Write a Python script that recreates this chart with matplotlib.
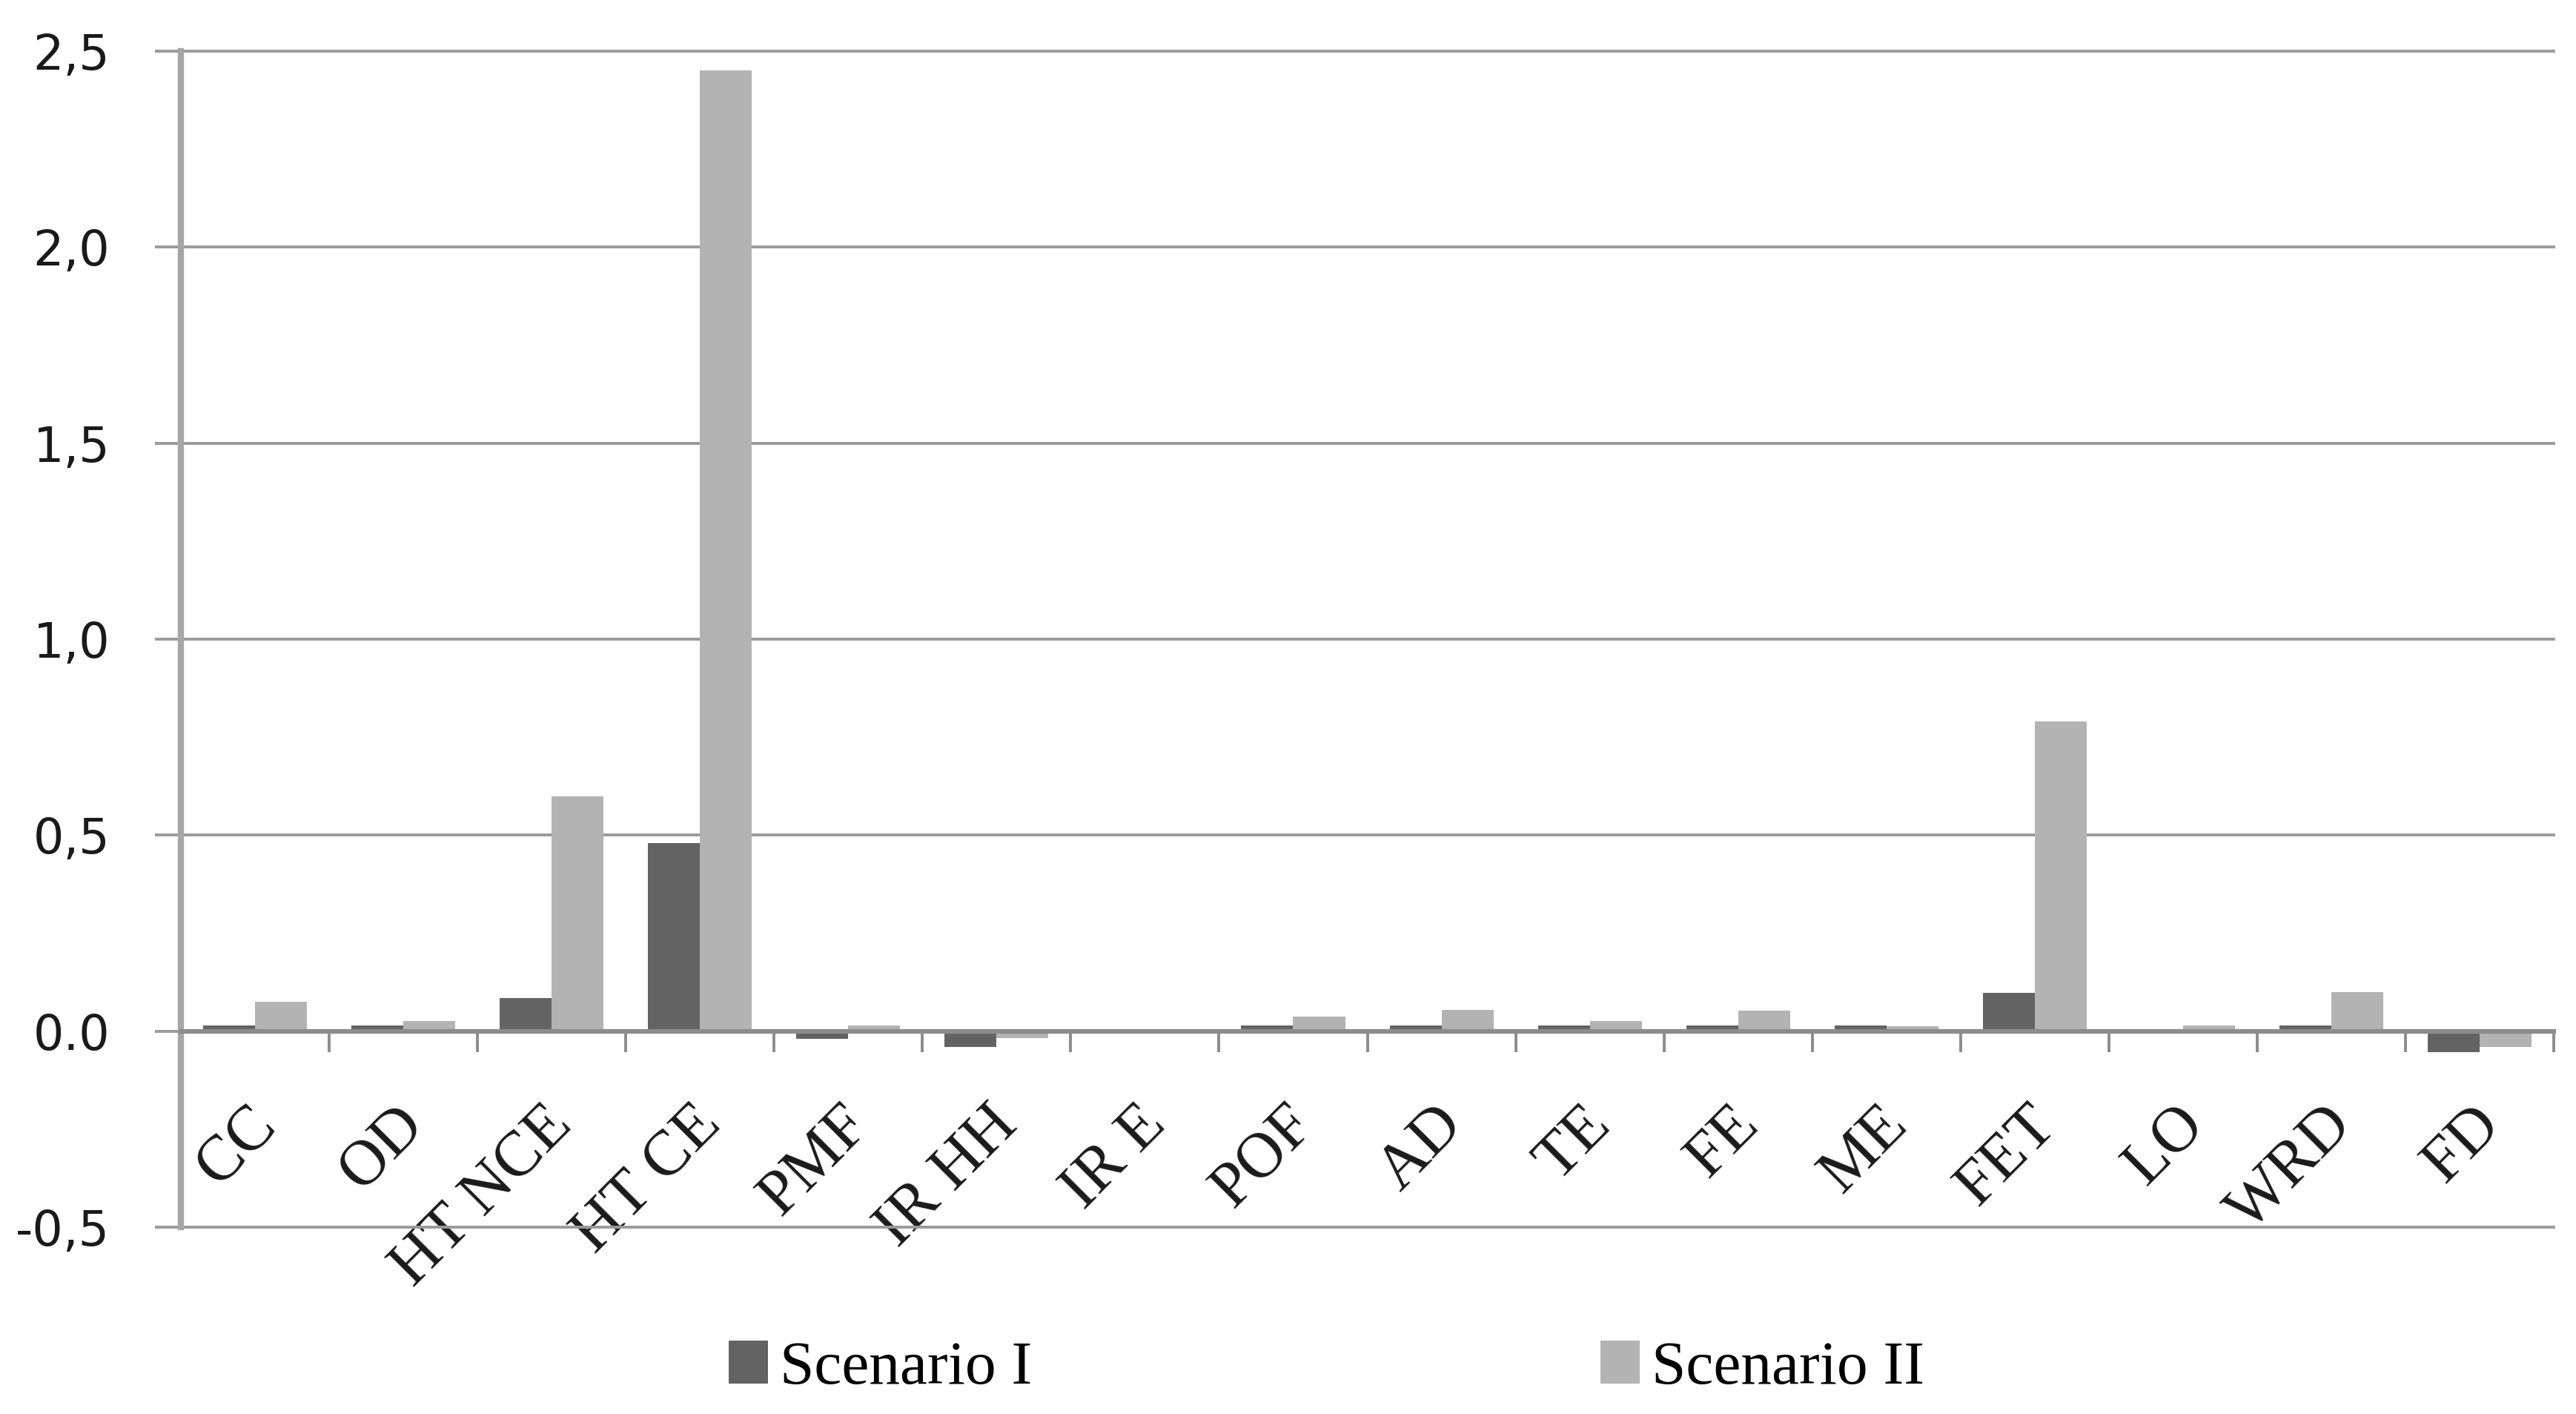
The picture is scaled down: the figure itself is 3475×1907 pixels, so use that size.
import matplotlib
matplotlib.use('Agg')
import matplotlib.pyplot as plt
import matplotlib.transforms as mtransforms
import numpy as np

# Data
categories = ['CC', 'OD', 'HT NCE', 'HT CE', 'PMF', 'IR HH', 'IR E', 'POF',
              'AD', 'TE', 'FE', 'ME', 'FET', 'LO', 'WRD', 'FD']
scenario_1 = [0.014, 0.014, 0.085, 0.48, -0.02, -0.04, 0.0, 0.014,
              0.014, 0.014, 0.014, 0.014, 0.098, 0.0, 0.014, -0.054]
scenario_2 = [0.076, 0.026, 0.60, 2.45, 0.014, -0.018, 0.0, 0.038,
              0.054, 0.026, 0.052, 0.012, 0.79, 0.015, 0.10, -0.041]
y_ticks = [-0.5, 0.0, 0.5, 1.0, 1.5, 2.0, 2.5]
y_tick_labels = ['-0,5', '0.0', '0,5', '1,0', '1,5', '2,0', '2,5']

dark = '#636363'
light = '#b3b3b3'
grid_col = '#9a9a9a'

fig = plt.figure(figsize=(34.75, 19.07), dpi=100)
ax = fig.add_axes([0.0702, 0.1321, 0.9212, 0.8317])

x = np.arange(len(categories))
w = 0.35
ax.bar(x - w / 2, scenario_1, w, color=dark, label='Scenario I', zorder=3)
ax.bar(x + w / 2, scenario_2, w, color=light, label='Scenario II', zorder=3)

ax.set_xlim(-0.5, len(categories) - 0.5)
ax.set_ylim(-0.5, 2.5)

# horizontal grid
ax.set_yticks(y_ticks)
ax.set_yticklabels(y_tick_labels, fontsize=47, family='DejaVu Sans', color='#1a1a1a')
ax.yaxis.grid(True, color=grid_col, linewidth=2.8, zorder=1)
for gl in ax.get_ygridlines():
    gl.set_clip_on(False)
ax.tick_params(axis='y', length=25, width=2.8, color=grid_col, pad=44)

# spines: x axis at zero, thick left axis
for s in ['top', 'right']:
    ax.spines[s].set_visible(False)
ax.spines['bottom'].set_position(('data', 0))
ax.spines['bottom'].set_color('#8c8c8c')
ax.spines['bottom'].set_linewidth(4.5)
ax.spines['bottom'].set_zorder(4)
ax.spines['left'].set_color('#a6a6a6')
ax.spines['left'].set_linewidth(6)

# category ticks at boundaries, labels at centres
ax.set_xticks(x)
ax.set_xticks(np.arange(len(categories) + 1) - 0.5, minor=True)
ax.tick_params(axis='x', which='major', length=0, pad=62)
ax.tick_params(axis='x', which='minor', length=20, width=2.8, color='#8c8c8c')
ax.set_xticklabels(categories, rotation=45, ha='right', va='top',
                   rotation_mode='anchor', fontsize=62,
                   family='Liberation Serif', color='#1a1a1a')
offset = mtransforms.ScaledTranslation(-12 / 100, 0, fig.dpi_scale_trans)
for lab in ax.get_xticklabels():
    lab.set_transform(lab.get_transform() + offset)

fig.legend(loc='center', bbox_to_anchor=(0.515, 0.032), ncol=2, frameon=False,
           prop={'family': 'Liberation Serif', 'size': 60},
           handlelength=0.63, handleheight=0.69, handletextpad=0.2,
           columnspacing=9.2)

fig.savefig('out.png', dpi=100)
